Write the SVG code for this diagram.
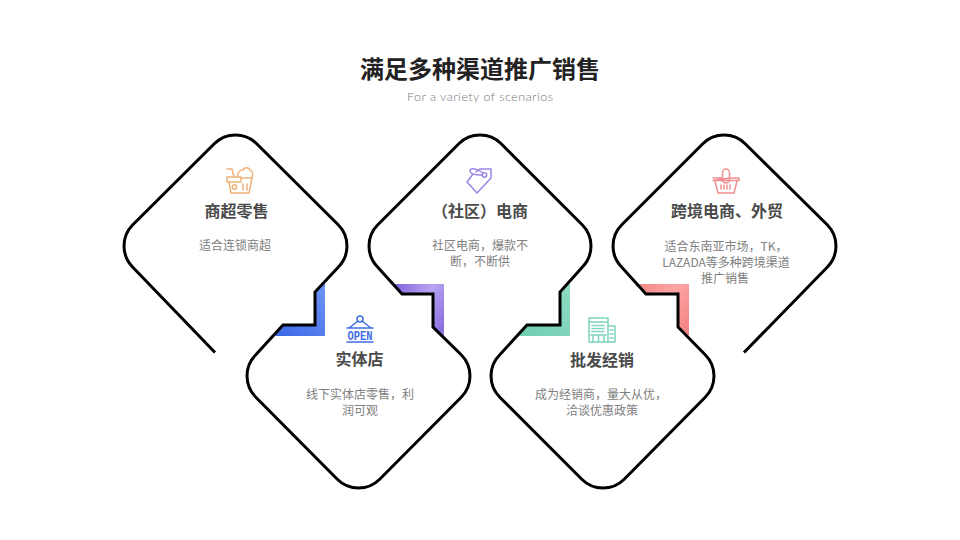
<svg xmlns="http://www.w3.org/2000/svg" width="960" height="540" viewBox="0 0 960 540">
<style>
text{font-family:"Noto Sans CJK SC","Noto Sans",sans-serif;text-anchor:middle}
.t{font-size:24px;font-weight:700;fill:#222}
.s{font-family:"Lato","Noto Sans",sans-serif;font-size:12.5px;font-weight:300;fill:#777}
.h{font-size:16px;font-weight:700;fill:#4a4a4a}
.b{font-size:12px;fill:#808080}
.i{fill:none;stroke-width:1.5;stroke-linejoin:round;stroke-linecap:round}
.outline{fill:none;stroke:#000;stroke-width:3;stroke-linejoin:miter}
</style>
<defs>
<linearGradient id="gb" x1="0" y1="1" x2="1" y2="0"><stop offset="0" stop-color="#3a66e6"/><stop offset="1" stop-color="#7096f7"/></linearGradient>
<linearGradient id="gp" x1="0" y1="0.2" x2="1" y2="0.8"><stop offset="0" stop-color="#8568df"/><stop offset="0.5" stop-color="#b9a6f2"/><stop offset="1" stop-color="#8a70e0"/></linearGradient>
<linearGradient id="gg" x1="0" y1="1" x2="1" y2="0"><stop offset="0" stop-color="#6fcdb0"/><stop offset="1" stop-color="#8fdcc5"/></linearGradient>
<linearGradient id="gr" x1="0" y1="0.2" x2="1" y2="0.8"><stop offset="0" stop-color="#f78c8c"/><stop offset="0.5" stop-color="#fca5a5"/><stop offset="1" stop-color="#f58585"/></linearGradient>
</defs>
<rect width="960" height="540" fill="#fff"/>
<text class="t" x="480" y="78">满足多种渠道推广销售</text>
<text class="s" x="480" y="101" textLength="146">For a variety of scenarios</text>
<g id="connectors">
<polygon points="325,282 325,336 275,336 283,325 315,325 315,292" fill="url(#gb)"/>
<polygon points="393,284 444,284 444,336 433,327 433,294 402,294" fill="url(#gp)"/>
<polygon points="570,282 570,336 519,336 527,325 560,325 560,292" fill="url(#gg)"/>
<polygon points="638,284 689,284 689,336 678,327 678,294 646,294" fill="url(#gr)"/>
<path class="outline" d="M215,352.500 L132.800,267.200 A30,30 0 0 1 132.800,224.800 L214.300,143.800 A30,30 0 0 1 256.700,143.800 L338.200,224.800 A30,30 0 0 1 338.200,267.200 L315,292 L315,325 L283,325 L255.800,354.800 A30,30 0 0 0 255.800,397.200 L337.300,479.200 A30,30 0 0 0 379.700,479.200 L461.200,397.200 A30,30 0 0 0 461.200,354.800 L433,327 L433,294 L402,294 L377.800,267.200 A30,30 0 0 1 377.800,224.800 L458.800,143.800 A30,30 0 0 1 501.200,143.800 L582.200,224.800 A30,30 0 0 1 582.200,267.200 L560,292 L560,325 L527,325 L499.800,354.800 A30,30 0 0 0 499.800,397.200 L581.800,479.200 A30,30 0 0 0 624.200,479.200 L705.200,397.200 A30,30 0 0 0 705.200,354.800 L678,327 L678,294 L646,294 L621.800,267.200 A30,30 0 0 1 621.800,224.800 L702.800,143.800 A30,30 0 0 1 745.200,143.800 L827.200,224.800 A30,30 0 0 1 827.200,267.200 L744,352.500"/>
</g>
<g id="node-1">
<g class="i" stroke="#f0b27a">
<path d="M227,169 H232 L234,177"/>
<path d="M227,177 H241 V182 H227 Z"/>
<path d="M229,182 L231,193 H249 L252,178 H241"/>
<path d="M238,177 C237,172 240,170 243,170 C244,167 249,167 250,170 C253,171 253,175 252,178"/>
<circle cx="234.500" cy="187" r="2.200"/>
<path d="M243,184 V190 M247,184 V190"/>
</g>
<text class="h" x="236.500" y="217">商超零售</text>
<text class="b" x="235" y="250">适合连锁商超</text>
</g>
<g id="node-2">
<g class="i" stroke="#3f6fe3">
<circle cx="360" cy="319" r="3"/>
<path d="M358,321 L349,328 M362,321 L371,328 M347,328 H373"/>
<path d="M347,342 H373"/>
</g>
<text x="360" y="339.500" style="font-family:'Liberation Mono',monospace;font-size:12.500px;font-weight:700;fill:#3f6fe3" textLength="25" lengthAdjust="spacingAndGlyphs">OPEN</text>
<text class="h" x="359.500" y="365">实体店</text>
<text class="b" x="360" y="399">线下实体店零售，利</text>
<text class="b" x="360" y="415">润可观</text>
</g>
<g id="node-3">
<g class="i" stroke="#9b85e4">
<path d="M473,174 L467,182 L477,193 L491,178 V169 H480 L476,172"/>
<circle cx="484.500" cy="175" r="2.200"/>
<path d="M483,173 C478,169 470,167 470,171 C470,174 476,175 482,175"/>
</g>
<text class="h" x="480" y="217">（社区）电商</text>
<text class="b" x="480" y="250">社区电商，爆款不</text>
<text class="b" x="480" y="266">断，不断供</text>
</g>
<g id="node-4">
<g class="i" stroke="#7fd4bd">
<rect x="589" y="318" width="19" height="24"/>
<path d="M589,322 H608 M608,326 H615 V342 H608"/>
<path d="M592,325.500 H605 M592,328.500 H605 M592,331.500 H605" stroke-dasharray="2 1.300"/>
<path d="M591,335 H606 M593,335 V342 M598.500,335 V342 M604,335 V342"/>
<path d="M610,330 H613 M610,334 H613 M610,338 H613"/>
</g>
<text class="h" x="602" y="366">批发经销</text>
<text class="b" x="601" y="399">成为经销商，量大从优，</text>
<text class="b" x="602" y="415">洽谈优惠政策</text>
</g>
<g id="node-5">
<g class="i" stroke="#ee8e8e">
<rect x="722.500" y="169" width="7" height="14" rx="3.500"/>
<path d="M713,178 H722 M730,178 H739 V180.500 H713 Z"/>
<path d="M715,181 L718,193 H734 L737,181"/>
<path d="M721,185 V189 M724,185 V189 M727,185 V189 M730,185 V189"/>
</g>
<text class="h" x="727" y="217">跨境电商、外贸</text>
<text class="b" x="726" y="251">适合东南亚市场，TK，</text>
<text class="b" x="726" y="267">LAZADA等多种跨境渠道</text>
<text class="b" x="725" y="283">推广销售</text>
</g>
</svg>
